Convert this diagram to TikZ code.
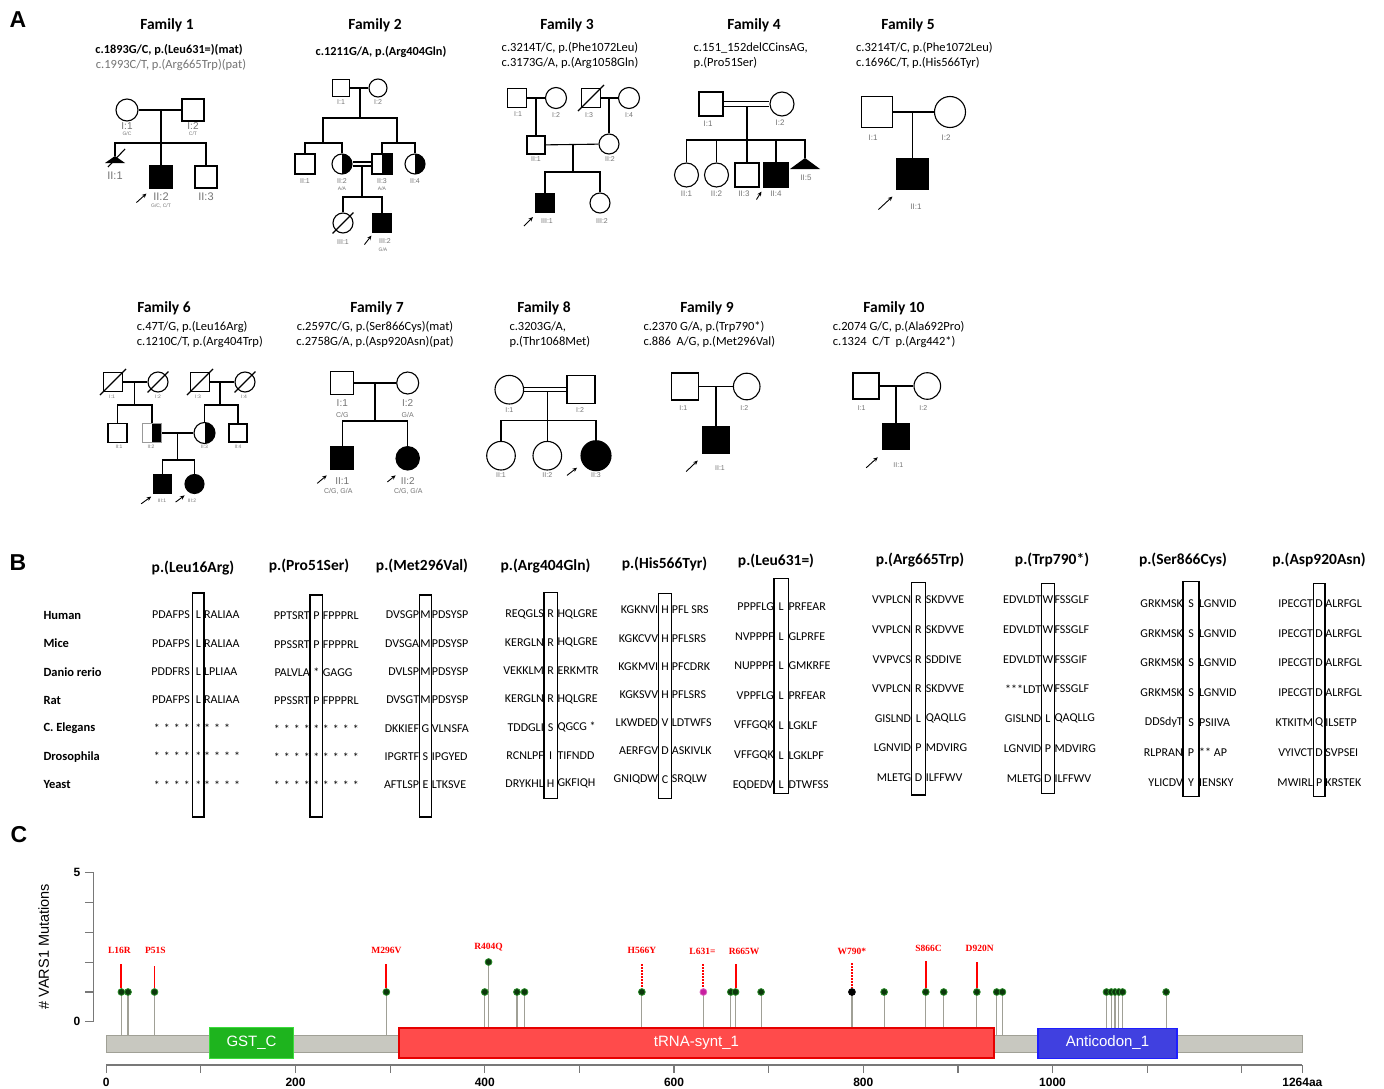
\documentclass[tikz,border=0pt]{standalone}
\usepackage{fontspec}
\setmainfont{Carlito}
\newfontfamily\arialfont{Liberation Sans}
\newfontfamily\serifont{Liberation Serif}
\usetikzlibrary{calc,arrows.meta}
\definecolor{idgray}{gray}{0.45}
\definecolor{bargray}{RGB}{200,200,192}
\definecolor{stemgray}{RGB}{160,160,150}
\definecolor{axisgray}{RGB}{120,120,120}
\definecolor{gstgreen}{RGB}{30,180,30}
\definecolor{gstline}{RGB}{60,220,60}
\definecolor{trnared}{RGB}{255,75,75}
\definecolor{trnaline}{RGB}{230,0,0}
\definecolor{antiblue}{RGB}{64,64,224}
\definecolor{antiline}{RGB}{30,30,255}
\definecolor{dotfill}{RGB}{12,55,12}
\definecolor{dotline}{RGB}{40,140,40}
\definecolor{magdot}{RGB}{200,30,160}
\definecolor{mutred}{RGB}{255,0,0}

\begin{document}
\begin{tikzpicture}[x=1pt,y=-1pt,
  ped/.style={line width=1.1pt},
  sq/.style={draw, rectangle, minimum size=#1pt, inner sep=0pt, line width=1.1pt},
  ci/.style={draw, circle, minimum size=#1pt, inner sep=0pt, line width=1.1pt},
  aff/.style={fill=black},
  half/.style={path picture={\fill[black] (path picture bounding box.north) rectangle (path picture bounding box.south east);}},
  idl/.style={font=\arialfont\fontsize{#1}{#1}\selectfont, text=idgray, inner sep=0pt},
  proband/.style={-{Stealth[length=4.5pt,width=4pt]}, line width=0.9pt},
  panel/.style={font=\arialfont\bfseries\fontsize{23}{23}\selectfont, inner sep=0pt},
  fam/.style={font=\bfseries\fontsize{15.5}{16}\selectfont, inner sep=0pt},
  mut/.style={font=\fontsize{12.5}{13}\selectfont, inner sep=0pt},
  hdr/.style={font=\bfseries\fontsize{15.5}{16}\selectfont, inner sep=0pt},
  spc/.style={font=\bfseries\fontsize{12.5}{13}\selectfont, inner sep=0pt, anchor=west},
  seq/.style={font=\fontsize{12}{12}\selectfont, inner sep=0pt},
  box/.style={draw, line width=1.3pt},
  stem/.style={draw=stemgray, line width=1.2pt},
  axis/.style={draw=axisgray, line width=1.2pt},
  tlab/.style={font=\arialfont\bfseries\fontsize{12}{12}\selectfont, inner sep=0pt},
  mlab/.style={font=\serifont\bfseries\fontsize{9.5}{10}\selectfont, text=mutred, inner sep=0pt},
  rline/.style={draw=mutred, line width=1.9pt},
  rdots/.style={draw=mutred, line width=1.9pt, dash pattern=on 2pt off 1pt},
  dom/.style={font=\arialfont\fontsize{15}{15}\selectfont, text=white, inner sep=0pt}]
\useasboundingbox (0,0) rectangle (1384,1089);

%panel letters
\node[panel] (lblA) at (18,20) {A};
\node[panel] (lblB) at (18,563) {B};
\node[panel] (lblC) at (19,835) {C};

%family 1
\node[fam] (f1t) at (167,25) {Family 1};
\node[mut, font=\bfseries\fontsize{12.3}{13}\selectfont] (f1m1) at (169,50) {c.1893G/C, p.(Leu631=)(mat)};
\node[mut, text=idgray] (f1m2) at (171,65) {c.1993C/T, p.(Arg665Trp)(pat)};
\node[ci=22] (f1i1) at (127,110) {};
\node[sq=22] (f1i2) at (193,110) {};
\coordinate (f1m) at (161,110);
\coordinate (f1s) at (161,143);
\coordinate (f1ii1) at (115,156);
\node[sq=22, aff] (f1ii2) at (161,177) {};
\node[sq=22] (f1ii3) at (206,177) {};
\draw[ped] (f1i1) -- (f1i2);
\draw[ped] (f1m) -- (f1s) -- (f1ii2);
\draw[ped] (f1ii1) |- (f1s) -| (f1ii3);
\fill (f1ii1) -- ++(10,7) -- ++(-20,0) -- cycle;
\draw[ped] ($(f1ii1)+(-7,11)$) -- ($(f1ii1)+(10,-7)$);
\node[idl=10] (f1i1t) at (127,126) {I:1};
\node[idl=5] (f1i1g) at (127,134) {G/C};
\node[idl=10] (f1i2t) at (193,126) {I:2};
\node[idl=5] (f1i2g) at (193,134) {C/T};
\node[idl=11] (f1ii1t) at (115,176) {II:1};
\node[idl=11] (f1ii2t) at (161,197) {II:2};
\node[idl=5] (f1ii2g) at (161,206) {G/C, C/T};
\node[idl=11] (f1ii3t) at (206,197) {II:3};
\draw[proband] ($(f1ii2.south west)+(-13,14)$) -- ($(f1ii2.south west)+(-3,5)$);

%family 2
\node[fam] (f2t) at (375,25) {Family 2};
\node[mut, font=\bfseries\fontsize{12.3}{13}\selectfont] (f2m1) at (381,52) {c.1211G/A, p.(Arg404Gln)};
\node[sq=17] (f2i1) at (341,88) {};
\node[ci=18] (f2i2) at (378,88) {};
\coordinate (f2m) at (360,88);
\coordinate (f2s) at (360,118);
\coordinate (f2sl) at (323,143);
\coordinate (f2sr) at (397,143);
\node[sq=20] (f2ii1) at (305,164) {};
\node[ci=20, half] (f2ii2) at (342,164) {};
\node[sq=20, half] (f2ii3) at (382,164) {};
\node[ci=20, half] (f2ii4) at (415,164) {};
\draw[ped] (f2i1) -- (f2i2);
\draw[ped] (f2m) -- (f2s);
\draw[ped] (f2sl) |- (f2s) -| (f2sr);
\draw[ped] (f2ii1) |- (f2sl) -| (f2ii2);
\draw[ped] (f2ii3) |- (f2sr) -| (f2ii4);
\draw[ped] ($(f2ii2.east)+(0,-2)$) -- ($(f2ii3.west)+(0,-2)$);
\draw[ped] ($(f2ii2.east)+(0,2)$) -- ($(f2ii3.west)+(0,2)$);
\coordinate (f2c) at (362,166);
\coordinate (f2cs) at (362,197);
\node[ci=20] (f2iii1) at (343,223) {};
\node[sq=18, aff] (f2iii2) at (382,223) {};
\draw[ped] (f2c) -- (f2cs);
\draw[ped] (f2iii1) |- (f2cs) -| (f2iii2);
\draw[ped] ($(f2iii1.south west)+(-3,3)$) -- ($(f2iii1.north east)+(3,-3)$);
\node[idl=7] (f2i1t) at (341,102) {I:1};
\node[idl=7] (f2i2t) at (378,102) {I:2};
\node[idl=7] (f2ii1t) at (305,181) {II:1};
\node[idl=7] (f2ii2t) at (342,181) {II:2};
\node[idl=5] (f2ii2g) at (342,189) {A/A};
\node[idl=7] (f2ii3t) at (382,181) {II:3};
\node[idl=5] (f2ii3g) at (382,189) {A/A};
\node[idl=7] (f2ii4t) at (415,181) {II:4};
\node[idl=7] (f2iii1t) at (343,242) {III:1};
\node[idl=7] (f2iii2t) at (385,241) {III:2};
\node[idl=5] (f2iii2g) at (383,250) {G/A};
\draw[proband] ($(f2iii2.south west)+(-8,12)$) -- ($(f2iii2.south west)+(-1,3)$);

%family 3
\node[fam] (f3t) at (567,25) {Family 3};
\node[mut] (f3m1) at (570,48) {c.3214T/C, p.(Phe1072Leu)};
\node[mut] (f3m2) at (570,63) {c.3173G/A, p.(Arg1058Gln)};
\node[sq=19] (f3i1) at (517,98) {};
\node[ci=21] (f3i2) at (556,98) {};
\node[sq=19] (f3i3) at (591,98) {};
\node[ci=21] (f3i4) at (629,98) {};
\node[sq=18] (f3ii1) at (536,145) {};
\node[ci=20] (f3ii2) at (609,144) {};
\node[sq=19, aff] (f3iii1) at (545,203) {};
\node[ci=20] (f3iii2) at (600,203) {};
\coordinate (f3m1c) at (536,98);
\coordinate (f3m2c) at (609,98);
\coordinate (f3m3c) at (573,144.5);
\coordinate (f3s) at (573,172);
\draw[ped] (f3i1) -- (f3i2);
\draw[ped] (f3i3) -- (f3i4);
\draw[ped] (f3m1c) -- (f3ii1);
\draw[ped] (f3m2c) -- (f3ii2);
\draw[ped] (f3ii1) -- (f3ii2);
\draw[ped] (f3m3c) -- (f3s);
\draw[ped] (f3iii1) |- (f3s) -| (f3iii2);
\draw[ped] ($(f3i3.south west)+(-3,3)$) -- ($(f3i3.north east)+(3,-3)$);
\node[idl=7] (f3i1t) at (518,114) {I:1};
\node[idl=7] (f3i2t) at (556,115) {I:2};
\node[idl=7] (f3i3t) at (589,115) {I:3};
\node[idl=7] (f3i4t) at (629,115) {I:4};
\node[idl=7] (f3ii1t) at (536,159) {II:1};
\node[idl=7] (f3ii2t) at (610,159) {II:2};
\node[idl=7] (f3iii1t) at (547,221) {III:1};
\node[idl=7] (f3iii2t) at (602,221) {III:2};
\draw[proband] ($(f3iii1.south west)+(-11,13)$) -- ($(f3iii1.south west)+(-2,4)$);

%family 4
\node[fam] (f4t) at (754,25) {Family 4};
\node[mut, anchor=west] (f4m1) at (693.5,48) {c.151\_152delCCinsAG,};
\node[mut, anchor=west] (f4m2) at (693.5,63) {p.(Pro51Ser)};
\node[sq=24] (f4i1) at (711,104) {};
\node[ci=24] (f4i2) at (782,104) {};
\draw[ped] ($(f4i1.east)+(0,-2.5)$) -- ($(f4i2.west)+(0,-2.5)$);
\draw[ped] ($(f4i1.east)+(0,2.5)$) -- ($(f4i2.west)+(0,2.5)$);
\coordinate (f4m) at (747,106.5);
\coordinate (f4s) at (747,140);
\node[ci=24] (f4ii1) at (686.5,175) {};
\node[ci=24] (f4ii2) at (716.5,175) {};
\node[sq=24] (f4ii3) at (747,175) {};
\node[sq=24, aff] (f4ii4) at (776,175) {};
\coordinate (f4ii5) at (805,158);
\draw[ped] (f4m) -- (f4s) -- (f4ii3);
\draw[ped] (f4ii1) |- (f4s) -| (f4ii5);
\draw[ped] (f4ii2) -- (f4ii2 |- f4s);
\draw[ped] (f4ii4) -- (f4ii4 |- f4s);
\fill (f4ii5) -- ++(15,11) -- ++(-30,0) -- cycle;
\node[idl=8] (f4i1t) at (708,124) {I:1};
\node[idl=8] (f4i2t) at (780,123) {I:2};
\node[idl=8] (f4ii1t) at (686.5,194) {II:1};
\node[idl=8] (f4ii2t) at (716.5,194) {II:2};
\node[idl=8] (f4ii3t) at (744,194) {II:3};
\node[idl=8] (f4ii4t) at (776,194) {II:4};
\node[idl=8] (f4ii5t) at (806,178) {II:5};
\draw[proband] ($(f4ii4.south west)+(-7,12)$) -- ($(f4ii4.south west)+(-2,4)$);

%family 5
\node[fam] (f5t) at (908,25) {Family 5};
\node[mut, anchor=west] (f5m1) at (856,48) {c.3214T/C, p.(Phe1072Leu)};
\node[mut, anchor=west] (f5m2) at (856,63) {c.1696C/T, p.(His566Tyr)};
\node[sq=31] (f5i1) at (877,112) {};
\node[ci=31] (f5i2) at (950,112) {};
\coordinate (f5m) at (912.5,112);
\node[sq=31, aff] (f5ii1) at (912.5,174) {};
\draw[ped] (f5i1) -- (f5i2);
\draw[ped] (f5m) -- (f5ii1);
\node[idl=8] (f5i1t) at (873,138) {I:1};
\node[idl=8] (f5i2t) at (946,138) {I:2};
\node[idl=8] (f5ii1t) at (916,207) {II:1};
\draw[proband] ($(f5ii1.south west)+(-18,19.5)$) -- ($(f5ii1.south west)+(-4,6.5)$);

%family 6
\node[fam] (f6t) at (164,308) {Family 6};
\node[mut, anchor=west] (f6m1) at (136.7,326.7) {c.47T/G, p.(Leu16Arg)};
\node[mut, anchor=west] (f6m2) at (136.7,341.7) {c.1210C/T, p.(Arg404Trp)};
\node[sq=19] (f6i1) at (113,382) {};
\node[ci=20] (f6i2) at (158,382) {};
\node[sq=19] (f6i3) at (200,382) {};
\node[ci=20] (f6i4) at (245,382) {};
\node[sq=19] (f6ii1) at (117.5,433) {};
\node[sq=19, half, draw=black!40] (f6ii2) at (152,433) {};
\node[ci=21, half] (f6ii3) at (204.5,433) {};
\node[sq=18] (f6ii4) at (238,433) {};
\node[sq=18.5, aff] (f6iii1) at (162.5,484) {};
\node[ci=19, aff] (f6iii2) at (194.5,484) {};
\coordinate (f6m1c) at (134.5,382);
\coordinate (f6s1) at (134.5,405);
\coordinate (f6m2c) at (220,382);
\coordinate (f6s2) at (220,405);
\coordinate (f6m3c) at (177.5,433);
\coordinate (f6s3) at (177.5,460);
\draw[ped] (f6i1) -- (f6i2);
\draw[ped] (f6i3) -- (f6i4);
\draw[ped] (f6ii2) -- (f6ii3);
\draw[ped] (f6m1c) -- (f6s1);
\draw[ped] (f6m2c) -- (f6s2);
\draw[ped] (f6m3c) -- (f6s3);
\draw[ped] (f6ii1) |- (f6s1) -| (f6ii2);
\draw[ped] (f6ii3) |- (f6s2) -| (f6ii4);
\draw[ped] (f6iii1) |- (f6s3) -| (f6iii2);
\draw[ped] ($(f6i1.south west)+(-3,3)$) -- ($(f6i1.north east)+(3,-3)$);
\draw[ped] ($(f6i2.south west)+(-3,3)$) -- ($(f6i2.north east)+(3,-3)$);
\draw[ped] ($(f6i3.south west)+(-3,3)$) -- ($(f6i3.north east)+(3,-3)$);
\draw[ped] ($(f6i4.south west)+(-3,3)$) -- ($(f6i4.north east)+(3,-3)$);
\node[idl=5] (f6i1t) at (112,397) {I:1};
\node[idl=5] (f6i2t) at (158,397) {I:2};
\node[idl=5] (f6i3t) at (198,397) {I:3};
\node[idl=5] (f6i4t) at (244,397) {I:4};
\node[idl=5] (f6ii1t) at (119,447) {II:1};
\node[idl=5] (f6ii2t) at (151,447) {II:2};
\node[idl=5] (f6ii3t) at (204.5,447) {II:3};
\node[idl=5] (f6ii4t) at (238,447) {II:4};
\node[idl=5] (f6iii1t) at (162,501) {III:1};
\node[idl=5] (f6iii2t) at (192,501) {III:2};
\draw[proband] ($(f6iii1.south west)+(-11.5,10)$) -- ($(f6iii1.south west)+(-1.5,2.75)$);
\draw[proband] ($(f6iii2.south west)+(-11.8,11)$) -- ($(f6iii2.south west)+(-2.8,4.3)$);

%family 7
\node[fam] (f7t) at (377,308) {Family 7};
\node[mut] (f7m1) at (375,326.7) {c.2597C/G, p.(Ser866Cys)(mat)};
\node[mut] (f7m2) at (375,341.7) {c.2758G/A, p.(Asp920Asn)(pat)};
\node[sq=23] (f7i1) at (342.3,383) {};
\node[ci=22] (f7i2) at (407.7,383) {};
\coordinate (f7m) at (375,383);
\coordinate (f7s) at (375,421);
\node[sq=23, aff] (f7ii1) at (342.3,458.3) {};
\node[ci=23.4, aff] (f7ii2) at (407.7,458.3) {};
\draw[ped] (f7i1) -- (f7i2);
\draw[ped] (f7m) -- (f7s);
\draw[ped] (f7ii1) |- (f7s) -| (f7ii2);
\node[idl=10] (f7i1t) at (342.3,402.7) {I:1};
\node[idl=7] (f7i1g) at (342.3,415) {C/G};
\node[idl=10] (f7i2t) at (407.7,402.7) {I:2};
\node[idl=7] (f7i2g) at (407.7,415) {G/A};
\node[idl=10] (f7ii1t) at (342.3,481) {II:1};
\node[idl=7] (f7ii1g) at (338.3,491) {C/G, G/A};
\node[idl=10] (f7ii2t) at (407.7,481) {II:2};
\node[idl=7] (f7ii2g) at (408.3,491) {C/G, G/A};
\draw[proband] ($(f7ii1.south west)+(-13,13)$) -- ($(f7ii1.south west)+(-3.5,5)$);
\draw[proband] ($(f7ii2.south west)+(-11.7,15)$) -- ($(f7ii2.south west)+(-3.4,8.4)$);

%family 8
\node[fam] (f8t) at (544,308) {Family 8};
\node[mut, anchor=west] (f8m1) at (509.3,326.7) {c.3203G/A,};
\node[mut, anchor=west] (f8m2) at (509.3,341.7) {p.(Thr1068Met)};
\node[ci=28.6] (f8i1) at (509.3,389.7) {};
\node[sq=28] (f8i2) at (581,389.7) {};
\draw[ped] ($(f8i1.east)+(0,-2)$) -- ($(f8i2.west)+(0,-2)$);
\draw[ped] ($(f8i1.east)+(0,2)$) -- ($(f8i2.west)+(0,2)$);
\coordinate (f8m) at (547.3,391.7);
\coordinate (f8s) at (547.3,420.7);
\node[ci=28.6] (f8ii1) at (501,455.7) {};
\node[ci=28.6] (f8ii2) at (547.3,455.7) {};
\node[ci=30, aff] (f8ii3) at (596,455.7) {};
\draw[ped] (f8m) -- (f8ii2);
\draw[ped] (f8ii1) |- (f8s) -| (f8ii3);
\node[idl=7] (f8i1t) at (509.3,410) {I:1};
\node[idl=7] (f8i2t) at (580,410) {I:2};
\node[idl=7] (f8ii1t) at (501,475) {II:1};
\node[idl=7] (f8ii2t) at (547.3,475) {II:2};
\node[idl=7] (f8ii3t) at (596,475) {II:3};
\draw[proband] ($(f8ii3.south west)+(-18,8.7)$) -- ($(f8ii3.south west)+(-8,1)$);

%family 9
\node[fam] (f9t) at (707,308) {Family 9};
\node[mut, anchor=west] (f9m1) at (643.3,326.7) {c.2370 G/A, p.(Trp790*)};
\node[mut, anchor=west] (f9m2) at (643.3,341.7) {c.886\ \ A/G, p.(Met296Val)};
\node[sq=27] (f9i1) at (684.7,386.5) {};
\node[ci=26.6] (f9i2) at (746.7,386.5) {};
\coordinate (f9m) at (716,386.5);
\node[sq=27, aff] (f9ii1) at (716,440) {};
\draw[ped] (f9i1) -- (f9i2);
\draw[ped] (f9m) -- (f9ii1);
\node[idl=7] (f9i1t) at (683.3,408.3) {I:1};
\node[idl=7] (f9i2t) at (744.3,408.3) {I:2};
\node[idl=7] (f9ii1t) at (720,468.3) {II:1};
\draw[proband] ($(f9ii1.south west)+(-15.8,17.5)$) -- ($(f9ii1.south west)+(-4.2,6.5)$);

%family 10
\node[fam] (f10t) at (894,308) {Family 10};
\node[mut, anchor=west] (f10m1) at (832.7,326.7) {c.2074 G/C, p.(Ala692Pro)};
\node[mut, anchor=west] (f10m2) at (832.7,341.7) {c.1324\ \ C/T\ \ p.(Arg442*)};
\node[sq=26] (f10i1) at (866,386) {};
\node[ci=26.6] (f10i2) at (927.3,386) {};
\coordinate (f10m) at (896,386);
\node[sq=26, aff] (f10ii1) at (896,436.3) {};
\draw[ped] (f10i1) -- (f10i2);
\draw[ped] (f10m) -- (f10ii1);
\node[idl=7] (f10i1t) at (861.7,408.3) {I:1};
\node[idl=7] (f10i2t) at (923.3,408.3) {I:2};
\node[idl=7] (f10ii1t) at (898.3,465) {II:1};
\draw[proband] ($(f10ii1.south west)+(-16.3,18)$) -- ($(f10ii1.south west)+(-4.7,7.4)$);

%panel B species
\foreach \s [count=\k] in {Human, Mice, Danio rerio, Rat, C. Elegans, Drosophila, Yeast}
  \node[spc] (sp\k) at (43.3, {615+(\k-1)*28.33}) {\s};

%column 1
\node[hdr] (h1) at (193,568) {p.(Leu16Arg)};
\draw[box] (192.7,593) rectangle (204,817);
\foreach \l/\m/\r [count=\k] in {PDAFPS/L/RALIAA, PDAFPS/L/RALIAA, PDDFRS/L/LPLIAA, PDAFPS/L/RALIAA, {*\,\,*\,\,*\,\,*}/*/{*\,\,*\,\,*}, {*\,\,*\,\,*\,\,*}/*/{*\,\,*\,\,*\,\,*}, {*\,\,*\,\,*\,\,*}/*/{*\,\,*\,\,*\,\,*}} {
  \node[seq, anchor=east] (a1l\k) at (190, {615+(\k-1)*28.33}) {\l};
  \node[seq] (a1m\k) at (198.35, {615+(\k-1)*28.33}) {\m};
  \node[seq, anchor=west] (a1r\k) at (204, {615+(\k-1)*28.33}) {\r};
}
%column 2
\node[hdr] (h2) at (309,566) {p.(Pro51Ser)};
\draw[box] (310,595) rectangle (322.7,817);
\foreach \l/\m/\r [count=\k] in {PPTSRT/P/FPPPRL, PPSSRT/P/FPPPRL, PALVLA/*/GAGG, PPSSRT/P/FPPPRL, {*\,\,*\,\,*\,\,*}/*/{*\,\,*\,\,*\,\,*}, {*\,\,*\,\,*\,\,*}/*/{*\,\,*\,\,*\,\,*}, {*\,\,*\,\,*\,\,*}/*/{*\,\,*\,\,*\,\,*}} {
  \node[seq, anchor=east] (a2l\k) at (310, {616+(\k-1)*28.2}) {\l};
  \node[seq] (a2m\k) at (316.35, {616+(\k-1)*28.2}) {\m};
  \node[seq, anchor=west] (a2r\k) at (322.7, {616+(\k-1)*28.2}) {\r};
}
%column 3
\node[hdr] (h3) at (422,566) {p.(Met296Val)};
\draw[box] (419.3,595) rectangle (431.7,817);
\foreach \l/\m/\r [count=\k] in {DVSGP/M/PDSYSP, DVSGA/M/PDSYSP, DVLSP/M/PDSYSP, DVSGT/M/PDSYSP, DKKIEF/G/VLNSFA, IPGRTF/S/IPGYED, AFTLSP/E/LTKSVE} {
  \node[seq, anchor=east] (a3l\k) at (419.3, {615+(\k-1)*28.33}) {\l};
  \node[seq] (a3m\k) at (425.5, {615+(\k-1)*28.33}) {\m};
  \node[seq, anchor=west] (a3r\k) at (431.7, {615+(\k-1)*28.33}) {\r};
}
%column 4
\node[hdr] (h4) at (545.5,566) {p.(Arg404Gln)};
\draw[box] (544,592.7) rectangle (557.3,798.3);
\foreach \l/\m/\r [count=\k] in {REQGLS/R/HQLGRE, KERGLN/R/HQLGRE, VEKKLM/R/ERKMTR, KERGLN/R/HQLGRE, TDDGLI/S/QGCG *, RCNLPF/I/TIFNDD, DRYKHL/H/GKFIQH} {
  \node[seq, anchor=east] (a4l\k) at (544, {614+(\k-1)*28.3}) {\l};
  \node[seq] (a4m\k) at (550.65, {614+(\k-1)*28.3}) {\m};
  \node[seq, anchor=west] (a4r\k) at (557.3, {614+(\k-1)*28.3}) {\r};
}
%column 5
\node[hdr] (h5) at (664.5,564) {p.(His566Tyr)};
\draw[box] (658.3,593.3) rectangle (671.7,798.3);
\foreach \l/\m/\r [count=\k] in {KGKNVI/H/PFL SRS, KGKCVV/H/PFLSRS, KGKMVI/H/PFCDRK, KGKSVV/H/PFLSRS, LKWDED/V/LDTWFS, AERFGV/D/ASKIVLK, GNIQDW/C/SRQLW} {
  \node[seq, anchor=east] (a5l\k) at (658.3, {610+(\k-1)*28.2}) {\l};
  \node[seq] (a5m\k) at (665, {610+(\k-1)*28.2}) {\m};
  \node[seq, anchor=west] (a5r\k) at (671.7, {610+(\k-1)*28.2}) {\r};
}
%column 6
\node[hdr] (h6) at (776,561) {p.(Leu631=)};
\draw[box] (774,578.3) rectangle (788.3,793.3);
\foreach \l/\m/\r [count=\k] in {PPPFLG/L/PRFEAR, NVPPPF/L/GLPRFE, NUPPPF/L/GMKRFE, VPPFLG/L/PRFEAR, VFFGQK/L/LGKLF, VFFGQK/L/LGKLPF, EQDEDV/L/DTWFSS} {
  \node[seq, anchor=east] (a6l\k) at (774, {606.7+(\k-1)*29.7}) {\l};
  \node[seq] (a6m\k) at (781.15, {606.7+(\k-1)*29.7}) {\m};
  \node[seq, anchor=west] (a6r\k) at (788.3, {606.7+(\k-1)*29.7}) {\r};
}
%column 7
\node[hdr] (h7) at (920,560) {p.(Arg665Trp)};
\draw[box] (911.3,582.7) rectangle (925.6,795);
\foreach \l/\m/\r [count=\k] in {VVPLCN/R/SKDVVE, VVPLCN/R/SKDVVE, VVPVCS/R/SDDIVE, VVPLCN/R/SKDVVE, GISLND/L/QAQLLG, LGNVID/P/MDVIRG, MLETG/D/ILFFWV} {
  \node[seq, anchor=east] (a7l\k) at (911.3, {600+(\k-1)*29.6}) {\l};
  \node[seq] (a7m\k) at (918.45, {600+(\k-1)*29.6}) {\m};
  \node[seq, anchor=west] (a7r\k) at (925.6, {600+(\k-1)*29.6}) {\r};
}
%column 8
\node[hdr] (h8) at (1052,560) {p.(Trp790*)};
\draw[box] (1041.4,583.3) rectangle (1054.4,793.3);
\foreach \l/\m/\r [count=\k] in {EDVLDT/W/FSSGLF, EDVLDT/W/FSSGLF, EDVLDT/W/FSSGIF, ***LDT/W/FSSGLF, GISLND/L/QAQLLG, LGNVID/P/MDVIRG, MLETG/D/ILFFWV} {
  \node[seq, anchor=east] (a8l\k) at (1041.4, {600+(\k-1)*29.7}) {\l};
  \node[seq] (a8m\k) at (1047.9, {600+(\k-1)*29.7}) {\m};
  \node[seq, anchor=west] (a8r\k) at (1054.4, {600+(\k-1)*29.7}) {\r};
}
%column 9
\node[hdr] (h9) at (1183,560) {p.(Ser866Cys)};
\draw[box] (1183,581.7) rectangle (1199,796.7);
\foreach \l/\m/\r [count=\k] in {GRKMSK/S/LGNVID, GRKMSK/S/LGNVID, GRKMSK/S/LGNVID, GRKMSK/S/LGNVID, DDSdyT/S/PSIIVA, RLPRAN/P/** AP, YLICDV/Y/IENSKY} {
  \node[seq, anchor=east] (a9l\k) at (1183, {603.5+(\k-1)*29.8}) {\l};
  \node[seq] (a9m\k) at (1191, {603.5+(\k-1)*29.8}) {\m};
  \node[seq, anchor=west] (a9r\k) at (1199, {603.5+(\k-1)*29.8}) {\r};
}
%column 10
\node[hdr] (h10) at (1319,560) {p.(Asp920Asn)};
\draw[box] (1313.2,583.3) rectangle (1325.1,796.7);
\foreach \l/\m/\r [count=\k] in {IPECGT/D/ALRFGL, IPECGT/D/ALRFGL, IPECGT/D/ALRFGL, IPECGT/D/ALRFGL, KTKITM/Q/ILSETP, VYIVCT/D/SVPSEI, MWIRL/P/KRSTEK} {
  \node[seq, anchor=east] (a10l\k) at (1313.2, {603.5+(\k-1)*29.8}) {\l};
  \node[seq] (a10m\k) at (1319.15, {603.5+(\k-1)*29.8}) {\m};
  \node[seq, anchor=west] (a10r\k) at (1325.1, {603.5+(\k-1)*29.8}) {\r};
}

%panel C y axis
\draw[axis] (93.75,872.7) -- (93.75,1021.7);
\foreach \c in {0,...,5}
  \draw[axis] (85,{1021.7-29.8*\c}) -- (93.75,{1021.7-29.8*\c});
\node[tlab] (y0) at (77,1021.7) {0};
\node[tlab] (y5) at (77,872.7) {5};
\node[font=\arialfont\fontsize{14.5}{15}\selectfont, rotate=90, inner sep=0pt] (ylab) at (43.75,946.7) {\# VARS1 Mutations};

%panel C protein, x in amino acids
\begin{scope}[shift={(106.25,0)}, x=0.9463pt]
\foreach \a in {16,23,51,296,400,434,442,566,631,660,665,692,788,822,866,885,920,941,947,1057,1062,1066,1070,1074,1120}
  \draw[stem] (\a,1035) -- (\a,992);
\draw[stem] (404,1035) -- (404,962);
\filldraw[fill=bargray, draw=stemgray] (0,1035) rectangle (1264,1051.7);
\filldraw[fill=gstgreen, draw=gstline, line width=1pt] (109,1027.7) rectangle (198,1058.3);
\filldraw[fill=trnared, draw=trnaline, line width=2pt] (309,1028.3) rectangle (938.5,1058.3);
\filldraw[fill=antiblue, draw=antiline, line width=1.5pt] (984.5,1028.3) rectangle (1131.5,1058.3);
\node[dom] (gst) at (153.5,1043) {GST\_C};
\node[dom] (trna) at (623.7,1043) {tRNA-synt\_1};
\node[dom] (antic) at (1058,1043) {Anticodon\_1};
%mutation labels and their red markers
\node[mlab] (mL16R) at (14,950.7) {L16R};
\node[mlab] (mP51S) at (52,950.7) {P51S};
\node[mlab] (mM296V) at (296,950.7) {M296V};
\node[mlab] (mR404Q) at (404,946.7) {R404Q};
\node[mlab] (mH566Y) at (566,950.7) {H566Y};
\node[mlab] (mL631) at (630,951.7) {L631=};
\node[mlab] (mR665W) at (674,951.7) {R665W};
\node[mlab] (mW790) at (788,951.7) {W790*};
\node[mlab] (mS866C) at (869,948.3) {S866C};
\node[mlab] (mD920N) at (923,948.3) {D920N};
\draw[rline] (16,964) -- (16,988);
\draw[rline] (51,966) -- (51,988);
\draw[rline] (296,964) -- (296,988);
\draw[rdots] (566,964) -- (566,988);
\draw[rdots] (631,964) -- (631,988);
\draw[rline] (665,964) -- (665,988);
\draw[rdots] (788,963) -- (788,988);
\draw[rline] (866,961) -- (866,988);
\draw[rline] (920,962) -- (920,988);
%dots
\foreach \a in {16,23,51,296,400,434,442,566,660,665,692,822,866,885,920,941,947,1057,1062,1066,1070,1074,1120}
  \filldraw[fill=dotfill, draw=dotline, line width=0.8pt] (\a,992) circle[radius=3.4pt];
\filldraw[fill=dotfill, draw=dotline, line width=0.8pt] (404,962) circle[radius=3.4pt];
\filldraw[fill=magdot, draw=magdot!70!white, line width=0.8pt] (631,992) circle[radius=3.4pt];
\filldraw[fill=black, line width=0.8pt] (788,992) circle[radius=3.4pt];
%x axis
\draw[axis] (0,1065) -- (1264,1065);
\foreach \a in {0,100,...,1200}
  \draw[axis] (\a,1065) -- (\a,1073);
\draw[axis] (1264,1065) -- (1264,1073);
\foreach \a in {0,200,...,1000}
  \node[tlab] (xl\a) at (\a,1082) {\a};
\node[tlab] (xlend) at (1264,1082) {1264aa};
\end{scope}
\end{tikzpicture}
\end{document}
